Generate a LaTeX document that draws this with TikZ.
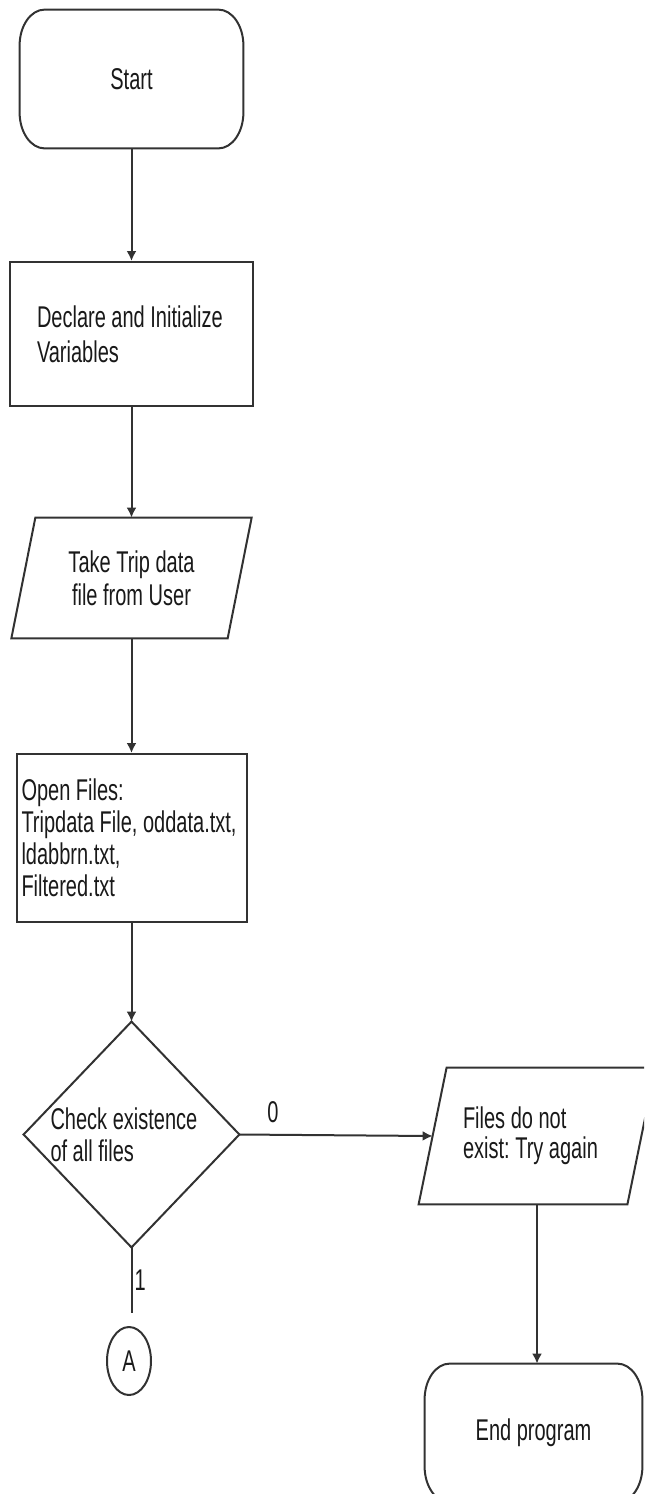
\documentclass[tikz,border=0pt]{standalone}
\usepackage{fontspec}
\setmainfont{Liberation Sans}[FakeStretch=0.667]
\usetikzlibrary{arrows.meta,shapes.geometric}
\definecolor{ln}{RGB}{50,50,50}
\definecolor{txt}{RGB}{25,25,25}
\newcommand\natsp{\spaceskip=\fontdimen2\font\xspaceskip=\fontdimen2\font\relax}
\newcommand\termoutline[1]{%
  \draw[line] ([xshift=12.5pt]#1.north west) -- ([xshift=-12.5pt]#1.north east)
    arc[start angle=90,end angle=0,x radius=12.5pt,y radius=18pt]
    -- ([yshift=18pt]#1.south east)
    arc[start angle=0,end angle=-90,x radius=12.5pt,y radius=18pt]
    -- ([xshift=12.5pt]#1.south west)
    arc[start angle=270,end angle=180,x radius=12.5pt,y radius=18pt]
    -- ([yshift=-18pt]#1.north west)
    arc[start angle=180,end angle=90,x radius=12.5pt,y radius=18pt] -- cycle;}
\newcommand\paraoutline[2]{%
  \draw[line] ([xshift=#2]#1.north west) -- ([xshift=#2]#1.north east)
    -- ([xshift=-#2]#1.south east) -- ([xshift=-#2]#1.south west) -- cycle;}
\begin{document}
\begin{tikzpicture}[x=0.5pt,y=-0.5pt,
  base/.style={font=\fontsize{15pt}{16pt}\selectfont, text=txt, inner sep=0pt, rectangle},
  hidden/.style={base, draw=none},
  boxshape/.style={base, draw=ln, line width=1pt},
  line/.style={draw=ln, line width=1pt},
  arrow/.style={line, -{Latex[length=5pt,width=5pt]}},
  lbl/.style={font=\fontsize{15pt}{16pt}\selectfont, text=txt, inner sep=0pt}]
\useasboundingbox (0,0) rectangle (644,1494);
\clip (0,0) rectangle (644,1494);

\node[hidden, minimum width=111.5pt, minimum height=69pt] (start) at (131.5,79) {Start};
\termoutline{start}

\node[boxshape, minimum width=121.5pt, minimum height=72pt, text width=94.5pt, align=left,
  font=\fontsize{15pt}{17.5pt}\selectfont] (decl) at (131.5,334)
  {\natsp\mbox{Declare and Initialize}\\\mbox{Variables}};

\node[hidden, minimum width=107.75pt, minimum height=60pt, align=center,
  font=\fontsize{15pt}{16.5pt}\selectfont] (take) at (131.5,578) {Take Trip data\\file from User};
\paraoutline{take}{6pt}

\node[boxshape, minimum width=115pt, minimum height=84pt, text width=110pt, align=left]
  (open) at (131.5,838) {\natsp\mbox{Open Files:}\\\mbox{Tripdata File, oddata.txt,}\\\mbox{ldabbrn.txt,}\\\mbox{Filtered.txt}};

\node[hidden, minimum width=107.5pt, minimum height=112.5pt, text width=81pt, align=left]
  (chk) at (131.5,1134.5) {\natsp\mbox{Check existence}\\\mbox{of all files}};
\draw[line] (chk.north) -- (chk.east) -- (chk.south) -- (chk.west) -- cycle;

\node[hidden, minimum width=104pt, minimum height=68pt, text width=74pt, align=left,
  font=\fontsize{15pt}{15pt}\selectfont] (files) at (537,1136) {\natsp\mbox{Files do not}\\\mbox{exist: Try again}};
\paraoutline{files}{7pt}

\node[hidden, minimum width=108.5pt, minimum height=69pt] (endp) at (533.5,1433) {End program};
\termoutline{endp}

\coordinate (aend) at (131.5,1313);
\node[ellipse, draw=ln, line width=1pt, minimum width=22pt, minimum height=34pt, inner sep=0pt,
  font=\fontsize{15pt}{16pt}\selectfont, text=txt] (conA) at (129,1361) {A};

\draw[arrow] (start.south) -- (decl.north);
\draw[arrow] (decl.south) -- (take.north);
\draw[arrow] (take.south) -- (open.north);
\draw[arrow] (open.south) -- (chk.north);
\draw[arrow] (chk.east) -- node[lbl, pos=0.174, above=5.5pt] {0} (files.west);
\draw[line] (chk.south) -- node[lbl, midway, right=1pt] {1} (aend);
\draw[arrow] (files.south) -- (files.south |- endp.north);
\end{tikzpicture}
\end{document}
